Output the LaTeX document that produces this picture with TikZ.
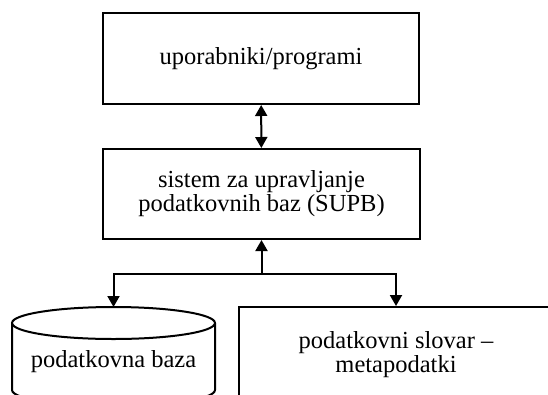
\documentclass[tikz,border=0pt]{standalone}
\usepackage{fontspec}
\setmainfont{Liberation Serif}
\usetikzlibrary{arrows.meta,calc,positioning}

\begin{document}
\begin{tikzpicture}[
		x=1pt, y=-1pt,
		font=\fontsize{24.5}{24}\selectfont,
		box/.style={rectangle, draw, line width=2pt, align=center},
		link/.style={line width=2pt},
		>={Triangle[width=12pt,length=11pt]}
		]

		\useasboundingbox (0,0) rectangle (548,394);
		\clip (0,0) rectangle (548,394);

		% --- Bloki ---
		\node[box, minimum width=316pt, minimum height=91pt] (users) at (261,58.5) {uporabniki/programi};
		\node[box, minimum width=317pt, minimum height=90pt] (supb) at (261.5,194) {sistem za upravljanje\\podatkovnih baz (SUPB)};
		\node[box, minimum width=314pt, minimum height=96pt] (dict) at (396,355) {podatkovni slovar --\\metapodatki};

		% --- Baza (valj) ---
		\draw[link] (12,323) -- (12,390) arc[start angle=180, end angle=360, x radius=101.5pt, y radius=16pt] -- (215,323);
		\draw[link] (113.5,323) ellipse [x radius=101.5pt, y radius=16pt];
		\coordinate (dbtop) at (113.5,307);
		\node (db) at (113.5,362) {podatkovna baza};

		% --- Povezave ---
		\coordinate (split) at ($(supb.south)+(0,34)$);
		\draw[link, <->] (users) -- (supb);
		\draw[link, ->] (split) -- (supb.south);
		\draw[link, ->] (split) -| (dbtop);
		\draw[link, ->] (split) -| (dict.north);

	\end{tikzpicture}
\end{document}
